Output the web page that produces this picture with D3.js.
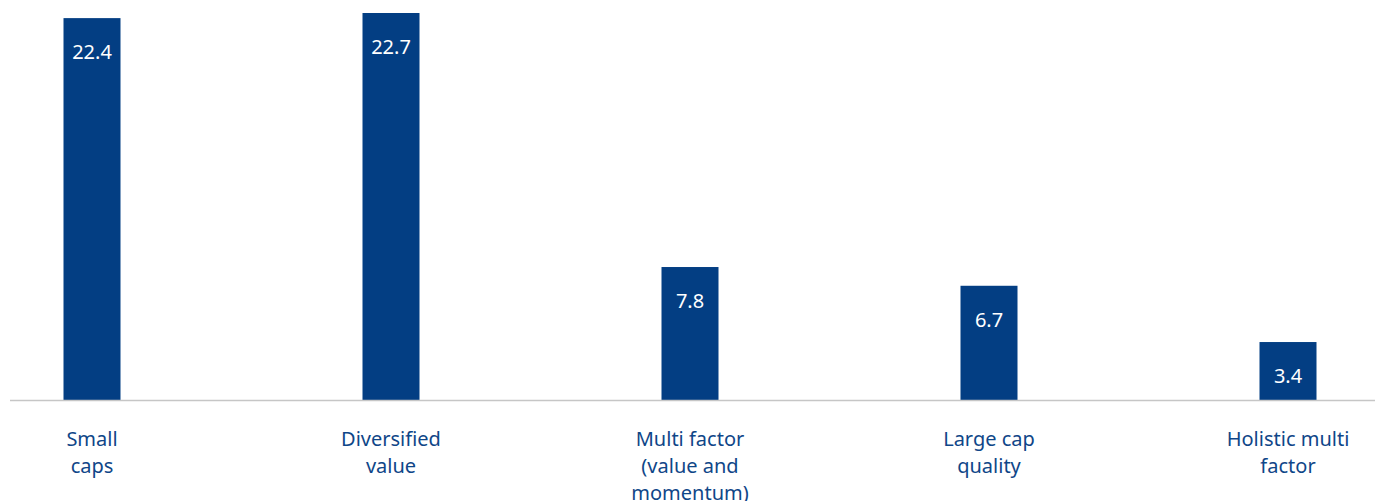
<!DOCTYPE html>
<html>
<head>
<meta charset="utf-8">
<script src="https://cdn.jsdelivr.net/npm/d3@7"></script>
<style>
  body { margin: 0; background: #fff; }
</style>
</head>
<body>
<div id="chart"></div>
<script>
// chart data
var categories = ["Small caps", "Diversified value", "Multi factor (value and momentum)", "Large cap quality", "Holistic multi factor"];
var labelLines = [["Small", "caps"], ["Diversified", "value"], ["Multi factor", "(value and", "momentum)"], ["Large cap", "quality"], ["Holistic multi", "factor"]];
var values = [22.4, 22.7, 7.8, 6.7, 3.4];

var width = 1375, height = 501;
var baseY = 400, barW = 57;

var svg = d3.select("#chart")
  .append("svg")
    .attr("width", width)
    .attr("height", height);

// Set the ranges
var x = d3.scalePoint()
    .domain(categories)
    .range([92, 1288]);

var y = d3.scaleLinear()
    .domain([0, 22.7])
    .range([baseY, 13]);

// bars
svg.append("g")
  .selectAll("rect")
  .data(values)
  .enter().append("rect")
    .attr("x", function(d, i) { return x(categories[i]) - barW / 2; })
    .attr("y", function(d) { return y(d); })
    .attr("width", barW)
    .attr("height", function(d) { return baseY - y(d); })
    .attr("fill", "#033e83");

// value labels inside bars
svg.append("g")
  .selectAll("text")
  .data(values)
  .enter().append("text")
    .attr("x", function(d, i) { return x(categories[i]); })
    .attr("y", function(d) { return y(d) + 41; })
    .attr("text-anchor", "middle")
    .attr("fill", "#fff")
    .style("font-family", "'Noto Sans', sans-serif")
    .style("font-size", "20px")
    .text(function(d) { return d.toFixed(1); });

// baseline
svg.append("line")
    .attr("x1", 10)
    .attr("x2", width)
    .attr("y1", baseY + 0.5)
    .attr("y2", baseY + 0.5)
    .attr("stroke", "#c6c6c6")
    .attr("stroke-width", 1.5);

// category labels
var cat = svg.append("g")
  .selectAll("text")
  .data(categories)
  .enter().append("text")
    .attr("x", function(d) { return x(d); })
    .attr("y", 446)
    .attr("text-anchor", "middle")
    .attr("fill", "#0f4688")
    .style("font-family", "'Noto Sans', sans-serif")
    .style("font-size", "20px");

cat.selectAll("tspan")
  .data(function(d, i) { return labelLines[i]; })
  .enter().append("tspan")
    .attr("x", function() { return x(d3.select(this.parentNode).datum()); })
    .attr("dy", function(d, i) { return i === 0 ? 0 : 27; })
    .text(function(d) { return d; });
</script>
</body>
</html>
